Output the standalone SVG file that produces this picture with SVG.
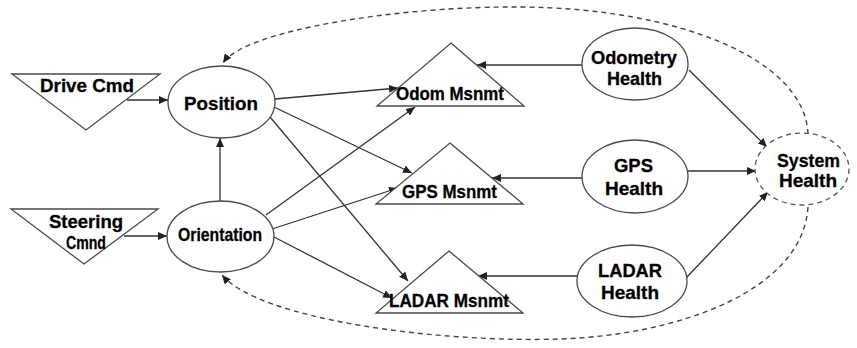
<svg xmlns="http://www.w3.org/2000/svg" width="857" height="348" viewBox="0 0 857 348">
<style>
.n{fill:#fff;stroke:#4a4a4a;stroke-width:1.3}
.t{font-family:"Liberation Sans",Arial,sans-serif;font-weight:bold;font-size:18.5px;fill:#000;stroke:#000;stroke-width:0.3;text-anchor:middle}
.c{stroke:#333;stroke-width:1.3;fill:none;marker-end:url(#ah)}
.d{stroke:#444;stroke-width:1.4;fill:none;stroke-dasharray:5 4;marker-end:url(#ah)}
</style>
<defs>
<marker id="ah" markerUnits="userSpaceOnUse" markerWidth="10" markerHeight="8" refX="9" refY="4" orient="auto">
<path d="M0,0 L9,4 L0,8 z" fill="#222"/>
</marker>
</defs>
<g id="connectors">
<line class="c" x1="127" y1="100" x2="168" y2="100"/>
<line class="c" x1="124" y1="236" x2="167" y2="236"/>
<line class="c" x1="220" y1="201" x2="220" y2="138"/>
<line class="c" x1="275" y1="99" x2="398" y2="88"/>
<line class="c" x1="274" y1="107" x2="412" y2="173"/>
<line class="c" x1="270" y1="117" x2="408" y2="281"/>
<line class="c" x1="266" y1="215" x2="415" y2="107"/>
<line class="c" x1="272" y1="229" x2="398" y2="188"/>
<line class="c" x1="274" y1="237" x2="392" y2="298"/>
<line class="c" x1="582" y1="65" x2="477" y2="65"/>
<line class="c" x1="582" y1="178" x2="492" y2="178"/>
<line class="c" x1="577" y1="276" x2="478" y2="276"/>
<line class="c" x1="689" y1="70" x2="767" y2="147"/>
<line class="c" x1="688" y1="171" x2="756" y2="171"/>
<line class="c" x1="686" y1="278" x2="768" y2="192"/>
<path class="d" d="M808,134 C805,60 680,8 520,7 C400,6 245,30 223,63"/>
<path class="d" d="M808,207 C803,290 680,335 560,339 C440,343 260,320 222,275"/>
</g>
<g id="drive-cmd">
<polygon class="n" points="12,74 160,74 86,130"/>
<text class="t" x="87" y="92" textLength="94" lengthAdjust="spacingAndGlyphs">Drive Cmd</text>
</g>
<g id="steering-cmd">
<polygon class="n" points="11,209 158,209 84,264"/>
<text class="t" x="86" y="228" textLength="74" lengthAdjust="spacingAndGlyphs">Steering</text>
<text class="t" x="86" y="249" textLength="40" lengthAdjust="spacingAndGlyphs">Cmnd</text>
</g>
<g id="position">
<ellipse class="n" cx="221.5" cy="102" rx="53.5" ry="36"/>
<text class="t" x="221" y="110" textLength="74" lengthAdjust="spacingAndGlyphs">Position</text>
</g>
<g id="orientation">
<ellipse class="n" cx="220.5" cy="236.5" rx="53.5" ry="35.5"/>
<text class="t" x="220" y="241" textLength="84" lengthAdjust="spacingAndGlyphs">Orientation</text>
</g>
<g id="odom-msnmt">
<polygon class="n" points="451,43 524,106 377,106"/>
<text class="t" x="450" y="100" textLength="108" lengthAdjust="spacingAndGlyphs">Odom Msnmt</text>
</g>
<g id="gps-msnmt">
<polygon class="n" points="450,143 523,204 376,204"/>
<text class="t" x="449.5" y="198" textLength="95" lengthAdjust="spacingAndGlyphs">GPS Msnmt</text>
</g>
<g id="ladar-msnmt">
<polygon class="n" points="449,251 523,313 376,313"/>
<text class="t" x="449" y="307" textLength="120" lengthAdjust="spacingAndGlyphs">LADAR Msnmt</text>
</g>
<g id="odometry-health">
<ellipse class="n" cx="635" cy="64" rx="53" ry="36"/>
<text class="t" x="634" y="64" textLength="86" lengthAdjust="spacingAndGlyphs">Odometry</text>
<text class="t" x="634.5" y="85" textLength="55" lengthAdjust="spacingAndGlyphs">Health</text>
</g>
<g id="gps-health">
<ellipse class="n" cx="635" cy="176.5" rx="53" ry="36.5"/>
<text class="t" x="633.5" y="172" textLength="39" lengthAdjust="spacingAndGlyphs">GPS</text>
<text class="t" x="634" y="195" textLength="58" lengthAdjust="spacingAndGlyphs">Health</text>
</g>
<g id="ladar-health">
<ellipse class="n" cx="632" cy="281" rx="55" ry="36"/>
<text class="t" x="630" y="277" textLength="64" lengthAdjust="spacingAndGlyphs">LADAR</text>
<text class="t" x="630" y="299" textLength="58" lengthAdjust="spacingAndGlyphs">Health</text>
</g>
<g id="system-health">
<ellipse cx="802" cy="169" rx="47" ry="36" fill="#fff" stroke="#555" stroke-width="1.3" stroke-dasharray="5 4"/>
<text class="t" x="808.5" y="167" textLength="63" lengthAdjust="spacingAndGlyphs">System</text>
<text class="t" x="808" y="187" textLength="58" lengthAdjust="spacingAndGlyphs">Health</text>
</g>
</svg>
